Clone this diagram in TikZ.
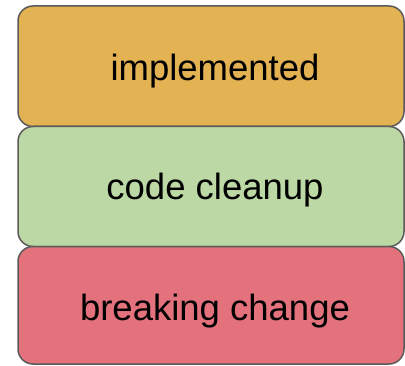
\documentclass[tikz,border=0pt]{standalone}
\usepackage{fontspec}
\setmainfont{Liberation Sans}
\definecolor{borderc}{HTML}{5A5A5A}
\definecolor{orangec}{HTML}{E3B252}
\definecolor{greenc}{HTML}{BCD8A4}
\definecolor{redc}{HTML}{E3727D}
\begin{document}
\begin{tikzpicture}[x=1pt,y=1pt,
  boxc/.style={draw=borderc, line width=1.5pt, rounded corners=15pt, rectangle, minimum width=386pt, inner sep=0pt},
  lbl/.style={anchor=base, font=\fontsize{36.5}{40}\selectfont, inner sep=0pt}]
\useasboundingbox (0,0) rectangle (405,365);
\node[boxc, fill=orangec, minimum height=120.5pt] (b1) at (211,298.75) {};
\node[boxc, fill=greenc, minimum height=120pt] (b2) at (211,178.5) {};
\node[boxc, fill=redc, minimum height=117.5pt] (b3) at (211,59.75) {};
\node[lbl] (t1) at (215,284) {implemented};
\node[lbl] (t2) at (215,165.5) {code cleanup};
\node[lbl] (t3) at (215,45) {breaking change};
\end{tikzpicture}
\end{document}
